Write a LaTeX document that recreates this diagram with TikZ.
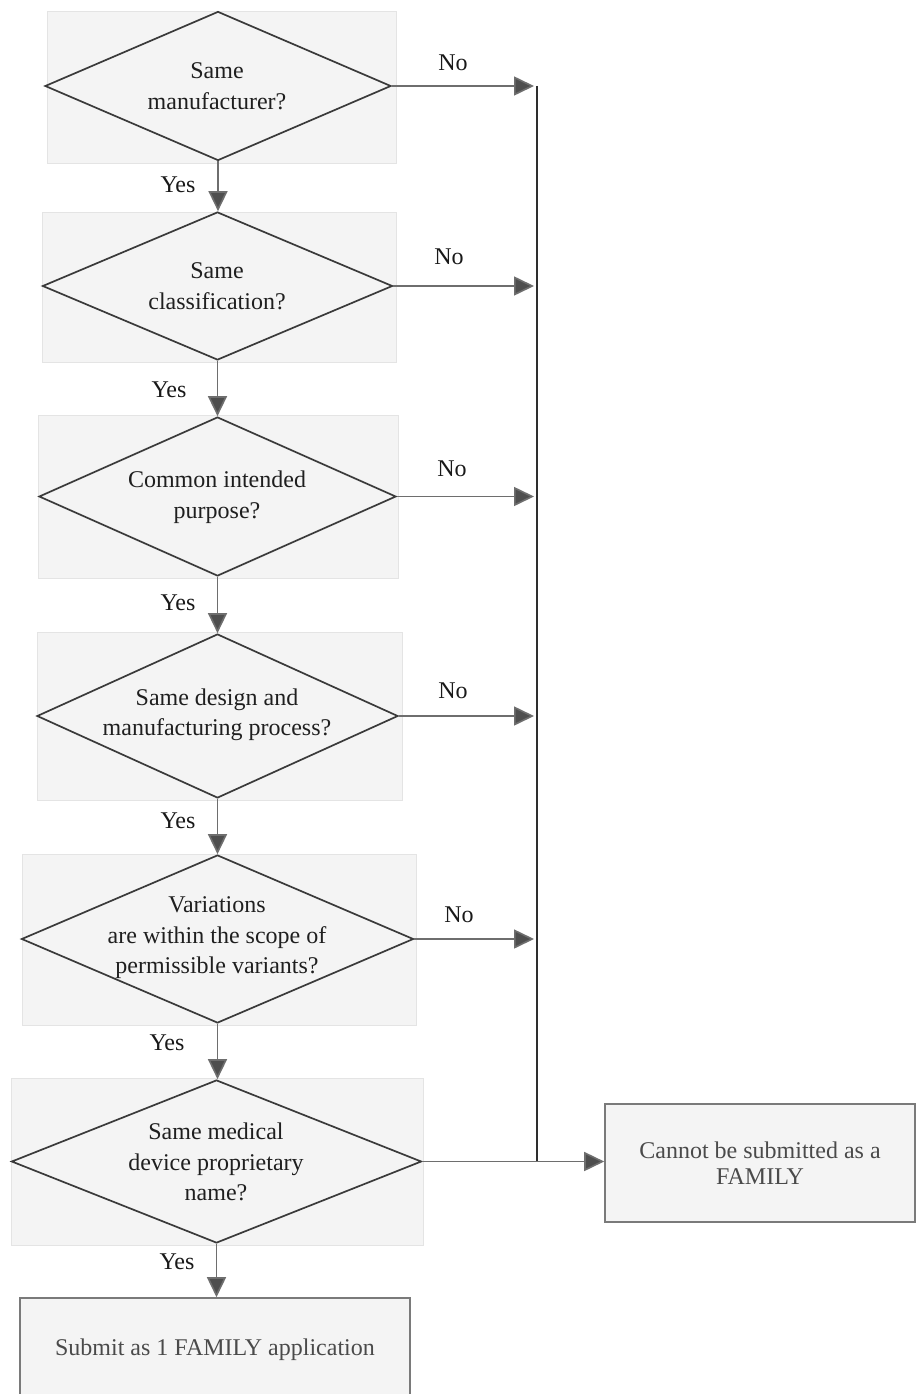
\documentclass[tikz,border=0pt]{standalone}
\usepackage{fontspec}
\setmainfont{Liberation Serif}
\usetikzlibrary{shapes.geometric,arrows.meta}
\definecolor{dline}{HTML}{3A3A3A}
\definecolor{arrgray}{HTML}{6E6E6E}
\definecolor{headgray}{HTML}{4E4E4E}
\definecolor{bgfill}{HTML}{F4F4F4}
\definecolor{bgedge}{HTML}{E4E4E4}
\definecolor{boxedge}{HTML}{7A7A7A}
\definecolor{boxtext}{HTML}{4A4A4A}
\definecolor{vline}{HTML}{2E2E2E}
\begin{document}
\begin{tikzpicture}[x=1pt,y=-1pt,
  bgbox/.style={rectangle, fill=bgfill, draw=bgedge, line width=0.8pt, inner sep=0pt},
  dia/.style={diamond, draw=dline, line width=1.7pt, inner sep=0pt},
  qtxt/.style={align=center, inner sep=0pt, font=\fontsize{24}{30.5}\selectfont, text=black!88},
  lbl/.style={inner sep=0pt, font=\fontsize{24}{28}\selectfont, text=black!90},
  arr/.style={draw=arrgray, line width=1.6pt, -{Triangle[length=20pt,width=19pt,fill=headgray]}},
  rbox/.style={rectangle, draw=boxedge, line width=1.6pt, fill=bgfill, inner sep=0pt, align=center, text=boxtext}
]
\useasboundingbox (0,0) rectangle (917,1394);
\fill[white] (0,0) rectangle (917,1394);

% background panels
\node[bgbox, minimum width=349pt, minimum height=152pt] (bg1) at (221.5,87) {};
\node[bgbox, minimum width=354pt, minimum height=150pt] (bg2) at (219,287) {};
\node[bgbox, minimum width=360pt, minimum height=163pt] (bg3) at (218.5,496.5) {};
\node[bgbox, minimum width=365pt, minimum height=168pt] (bg4) at (219.5,716) {};
\node[bgbox, minimum width=394pt, minimum height=171pt] (bg5) at (219,939.5) {};
\node[bgbox, minimum width=412pt, minimum height=167pt] (bg6) at (217,1161.5) {};

% decision diamonds
\node[dia, minimum width=346pt, minimum height=149pt] (d1) at (218,86) {};
\node[dia, minimum width=350pt, minimum height=148pt] (d2) at (217.5,286) {};
\node[dia, minimum width=357pt, minimum height=159pt] (d3) at (217.5,496.5) {};
\node[dia, minimum width=361pt, minimum height=164pt] (d4) at (217.5,716) {};
\node[dia, minimum width=392pt, minimum height=168pt] (d5) at (217.5,939) {};
\node[dia, minimum width=410pt, minimum height=163pt] (d6) at (216.5,1161.5) {};

% question texts
\node[qtxt] (t1) at (217,86) {Same\\manufacturer?};
\node[qtxt] (t2) at (217,286) {Same\\classification?};
\node[qtxt] (t3) at (217,497) {Common intended\\purpose?};
\node[qtxt] (t4) at (217,715) {Same design and\\manufacturing process?};
\node[qtxt] (t5) at (217,938) {Variations\\are within the scope of\\permissible variants?};
\node[qtxt] (t6) at (216,1162) {Same medical\\device proprietary\\name?};

% result boxes
\node[rbox, minimum width=390pt, minimum height=104pt, font=\fontsize{24}{28}\selectfont] (sub) at (215,1350) {Submit as 1 FAMILY application};
\node[rbox, minimum width=310pt, minimum height=118pt, font=\fontsize{24}{26}\selectfont] (cant) at (760,1163) {Cannot be submitted as a\\FAMILY};

% collector line
\coordinate (vtop) at (537,86);
\coordinate (vbot) at (537,1161.5);
\draw[draw=vline, line width=1.6pt] (vtop) -- (vbot);

% No ends
\coordinate (n1) at (534,86);
\coordinate (n2) at (534,286);
\coordinate (n3) at (534,496.5);
\coordinate (n4) at (534,716);
\coordinate (n5) at (534,939);

% Yes arrows
\draw[arr] (d1.south) -- (d1.south |- d2.north);
\draw[arr] (d2.south) -- (d2.south |- d3.north);
\draw[arr] (d3.south) -- (d3.south |- d4.north);
\draw[arr] (d4.south) -- (d4.south |- d5.north);
\draw[arr] (d5.south) -- (d5.south |- d6.north);
\draw[arr] (d6.south) -- (d6.south |- sub.north);

% No arrows
\draw[arr] (d1.east) -- (n1);
\draw[arr] (d2.east) -- (n2);
\draw[arr] (d3.east) -- (n3);
\draw[arr] (d4.east) -- (n4);
\draw[arr] (d5.east) -- (n5);
\draw[arr] (d6.east) -- (d6.east -| cant.west);

% labels
\node[lbl] (y1) at (178,185) {Yes};
\node[lbl] (y2) at (169,390) {Yes};
\node[lbl] (y3) at (178,603) {Yes};
\node[lbl] (y4) at (178,821) {Yes};
\node[lbl] (y5) at (167,1043) {Yes};
\node[lbl] (y6) at (177,1262) {Yes};
\node[lbl] (no1) at (453,63) {No};
\node[lbl] (no2) at (449,257) {No};
\node[lbl] (no3) at (452,469) {No};
\node[lbl] (no4) at (453,691) {No};
\node[lbl] (no5) at (459,915) {No};
\end{tikzpicture}
\end{document}
